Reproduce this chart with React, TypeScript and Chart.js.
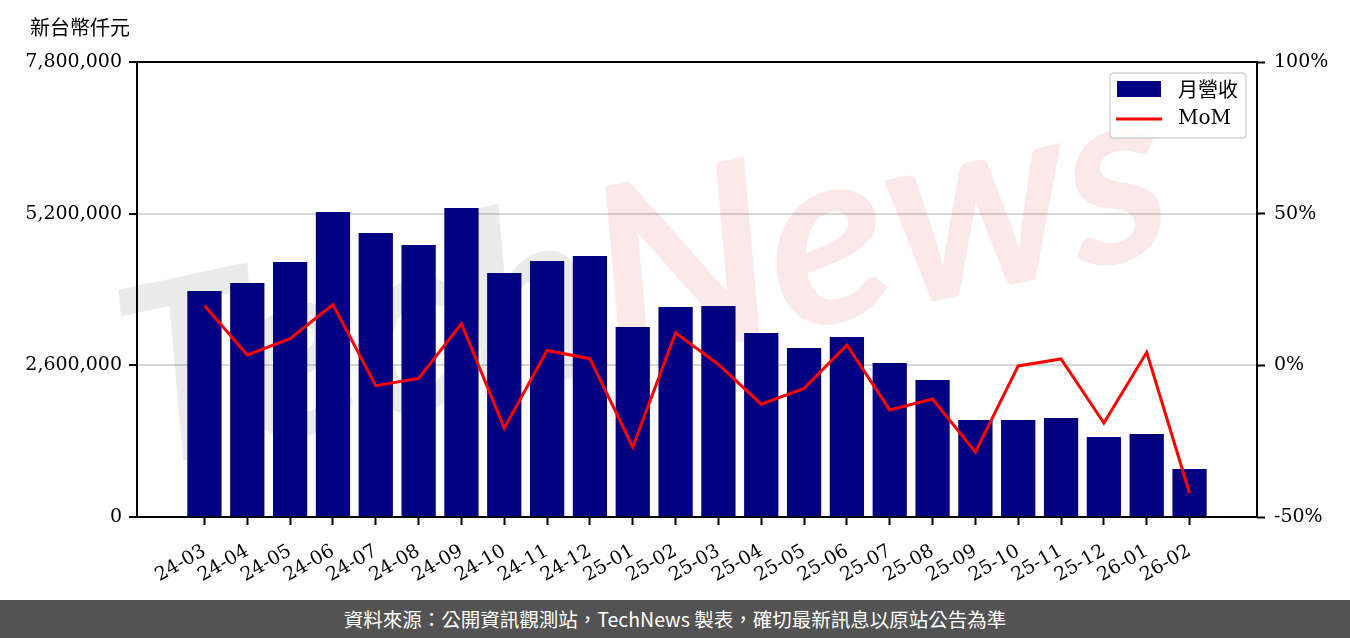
import { useEffect, useRef } from "react";
import { Chart, registerables } from "chart.js";

Chart.register(...registerables);

const months = [
  "24-03", "24-04", "24-05", "24-06", "24-07", "24-08", "24-09", "24-10",
  "24-11", "24-12", "25-01", "25-02", "25-03", "25-04", "25-05", "25-06",
  "25-07", "25-08", "25-09", "25-10", "25-11", "25-12", "26-01", "26-02",
];

const revenue = [
  3874000, 4011000, 4371000, 5229000, 4869000, 4663000, 5297000, 4183000,
  4389000, 4474000, 3257000, 3600000, 3617000, 3154000, 2897000, 3086000,
  2640000, 2349000, 1663000, 1663000, 1697000, 1371000, 1423000, 823000,
];

const mom = [
  19.7, 3.4, 8.8, 20.0, -6.7, -4.3, 13.7, -20.7,
  4.9, 2.2, -26.9, 10.7, 0.3, -12.8, -7.6, 6.7,
  -14.7, -11.1, -28.6, -0.2, 2.1, -19.0, 4.3, -42.1,
];

const leftTicks = [0, 2600000, 5200000, 7800000];
const rightTicks = [-50, 0, 50, 100];

const unitLabel = "新台幣仟元";
const revenueLabel = "月營收";
const momLabel = "MoM";
const footerText = "資料來源：公開資訊觀測站，TechNews 製表，確切最新訊息以原站公告為準";
const watermarkA = "Tech";
const watermarkB = "News";

const SERIF = '"DejaVu Serif", "Liberation Serif", serif';
const CJK = '"Noto Sans CJK TC", "Noto Sans", sans-serif';

export default function App() {
  const ref = useRef<HTMLCanvasElement | null>(null);

  useEffect(() => {
    if (!ref.current) return;

    const decor = {
      id: "decor",
      beforeDatasetsDraw(chart: any) {
        const ctx = chart.ctx;
        ctx.save();
        ctx.translate(140, 470);
        ctx.rotate((-12 * Math.PI) / 180);
        ctx.font = 'italic bold 250px Lato, "DejaVu Sans", sans-serif';
        ctx.textBaseline = "alphabetic";
        ctx.fillStyle = "rgba(0,0,0,0.08)";
        ctx.fillText(watermarkA, 0, 0);
        const w = ctx.measureText(watermarkA).width;
        ctx.fillStyle = "rgba(215,40,40,0.1)";
        ctx.fillText(watermarkB, w, 0);
        ctx.restore();
      },
      afterDraw(chart: any) {
        const ctx = chart.ctx;
        const a = chart.chartArea;
        ctx.save();
        ctx.strokeStyle = "#000";
        ctx.lineWidth = 2;
        ctx.strokeRect(a.left, a.top, a.right - a.left, a.bottom - a.top);
        ctx.fillStyle = "#000";
        ctx.font = `20px ${CJK}`;
        ctx.textBaseline = "middle";
        ctx.textAlign = "left";
        ctx.fillText(unitLabel, 30, 27);
        const bx = 1110, by = 73, bw = 136, bh = 65, r = 4;
        ctx.beginPath();
        ctx.moveTo(bx + r, by);
        ctx.lineTo(bx + bw - r, by);
        ctx.quadraticCurveTo(bx + bw, by, bx + bw, by + r);
        ctx.lineTo(bx + bw, by + bh - r);
        ctx.quadraticCurveTo(bx + bw, by + bh, bx + bw - r, by + bh);
        ctx.lineTo(bx + r, by + bh);
        ctx.quadraticCurveTo(bx, by + bh, bx, by + bh - r);
        ctx.lineTo(bx, by + r);
        ctx.quadraticCurveTo(bx, by, bx + r, by);
        ctx.closePath();
        ctx.fillStyle = "rgba(255,255,255,0.85)";
        ctx.fill();
        ctx.strokeStyle = "#d4d4d4";
        ctx.lineWidth = 1.5;
        ctx.stroke();
        ctx.fillStyle = "#000080";
        ctx.fillRect(1117, 81, 44, 16);
        ctx.strokeStyle = "#ff0000";
        ctx.lineWidth = 3;
        ctx.beginPath();
        ctx.moveTo(1116, 119);
        ctx.lineTo(1162, 119);
        ctx.stroke();
        ctx.fillStyle = "#000";
        ctx.font = `20px ${CJK}`;
        ctx.fillText(revenueLabel, 1178, 89);
        ctx.font = `20px ${SERIF}`;
        ctx.fillText(momLabel, 1178, 119);
        ctx.restore();
      },
    };

    const chart = new Chart(ref.current, {
      type: "bar",
      data: {
        datasets: [
          {
            type: "line",
            label: momLabel,
            data: mom.map((v, i) => ({ x: i, y: v })),
            yAxisID: "y1",
            borderColor: "#ff0000",
            borderWidth: 3,
            pointRadius: 0,
            tension: 0,
            order: 0,
          } as any,
          {
            type: "bar",
            label: revenueLabel,
            data: revenue.map((v, i) => ({ x: i, y: v })),
            yAxisID: "y",
            backgroundColor: "#000080",
            barPercentage: 0.8,
            categoryPercentage: 1,
            order: 1,
          } as any,
        ],
      },
      options: {
        responsive: false,
        animation: false,
        layout: { padding: { top: 62, left: 0, right: 0, bottom: 0 } },
        plugins: { legend: { display: false }, tooltip: { enabled: false } },
        scales: {
          x: {
            type: "linear",
            offset: false,
            min: -1.575,
            max: 24.575,
            afterBuildTicks(scale: any) {
              scale.ticks = months.map((_, i) => ({ value: i }));
            },
            afterFit(scale: any) {
              scale.height = 83;
            },
            ticks: {
              autoSkip: false,
              maxRotation: 30,
              minRotation: 30,
              padding: 15,
              color: "#000",
              font: { family: SERIF, size: 19 },
              callback: (v: any) => months[v] ?? "",
            },
            grid: {
              offset: false,
              drawOnChartArea: false,
              drawTicks: true,
              tickLength: 8,
              tickColor: "#000",
              tickWidth: 2,
            },
            border: { display: false },
          },
          y: {
            position: "left",
            min: 0,
            max: 7800000,
            afterBuildTicks(scale: any) {
              scale.ticks = leftTicks.map((v) => ({ value: v }));
            },
            afterFit(scale: any) {
              scale.width = 137;
            },
            ticks: {
              padding: 7,
              color: "#000",
              font: { family: SERIF, size: 19 },
              callback: (v: any) => Number(v).toLocaleString("en-US"),
            },
            grid: {
              color: "#d6d6d6",
              lineWidth: 2,
              tickLength: 8,
              tickColor: "#000",
              tickWidth: 2,
            },
            border: { display: false },
          },
          y1: {
            position: "right",
            min: -50,
            max: 100,
            afterBuildTicks(scale: any) {
              scale.ticks = rightTicks.map((v) => ({ value: v }));
            },
            afterFit(scale: any) {
              scale.width = 93;
            },
            ticks: {
              padding: 9,
              color: "#000",
              font: { family: SERIF, size: 19 },
              callback: (v: any) => `${v}%`,
            },
            grid: {
              drawOnChartArea: false,
              tickLength: 8,
              tickColor: "#000",
              tickWidth: 2,
            },
            border: { display: false },
          },
        },
      },
      plugins: [decor],
    } as any);

    return () => chart.destroy();
  }, []);

  return (
    <div style={{ position: "absolute", left: 0, top: 0, width: 1350, height: 638, background: "#fff" }}>
      <canvas ref={ref} width={1350} height={600} style={{ display: "block", width: 1350, height: 600 }} />
      <div
        style={{
          position: "absolute",
          left: 0,
          top: 600,
          width: 1350,
          height: 38,
          background: "#535353",
          color: "#fff",
          fontFamily: CJK,
          fontSize: 19.5,
          lineHeight: "38px",
          textAlign: "center",
          whiteSpace: "nowrap",
        }}
      >
        {footerText}
      </div>
    </div>
  );
}
